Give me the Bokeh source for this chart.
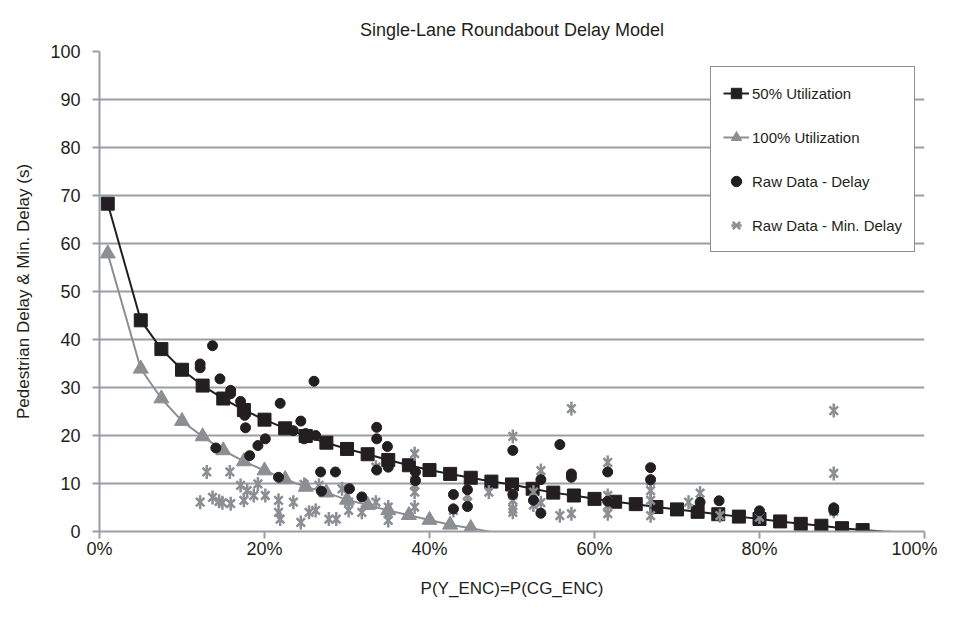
import math
from bokeh.plotting import figure
from bokeh.models import Legend, LegendItem, NumeralTickFormatter, FixedTicker, Range1d
from bokeh.embed import file_html
from bokeh.resources import INLINE

# ---------------- data ----------------
title_text = "Single-Lane Roundabout Delay Model"
x_label = "P(Y_ENC)=P(CG_ENC)"
y_label = "Pedestrian Delay & Min. Delay (s)"

x_ticks = [0.0, 0.2, 0.4, 0.6, 0.8, 1.0]
y_ticks = [0, 10, 20, 30, 40, 50, 60, 70, 80, 90, 100]

# 50% utilization model (markers)
u50_x = [0.01, 0.05, 0.075, 0.10, 0.125, 0.15, 0.175, 0.20, 0.225, 0.25, 0.275, 0.30,
         0.325, 0.35, 0.375, 0.40, 0.425, 0.45, 0.475, 0.50, 0.525, 0.55, 0.575, 0.60,
         0.625, 0.65, 0.675, 0.70, 0.725, 0.75, 0.775, 0.80, 0.825, 0.85, 0.875, 0.90, 0.925]
u50_y = [68.3, 44.0, 38.0, 33.7, 30.4, 27.7, 25.3, 23.3, 21.5, 19.9, 18.5, 17.2,
         16.1, 14.9, 13.8, 12.8, 12.0, 11.2, 10.4, 9.8, 8.9, 8.1, 7.5, 6.8,
         6.2, 5.7, 5.1, 4.6, 4.1, 3.6, 3.1, 2.6, 2.1, 1.6, 1.2, 0.7, 0.3]
# continuation of the model curve past the last marker
u50_tail_x = [0.95, 0.975]
u50_tail_y = [0.0, -0.2]

# 100% utilization model
u100_x = [0.01, 0.05, 0.075, 0.10, 0.125, 0.15, 0.175, 0.20, 0.225, 0.25, 0.275, 0.30,
          0.325, 0.35, 0.375, 0.40, 0.425, 0.45]
u100_y = [57.9, 33.9, 27.7, 23.0, 19.8, 16.9, 14.6, 12.7, 10.9, 9.3, 8.1, 6.6,
          5.5, 4.4, 3.4, 2.4, 1.4, 0.7]
u100_tail_x = [0.475]
u100_tail_y = [-0.1]

# raw data - delay (circles)
delay_x = [0.122, 0.122, 0.137, 0.146, 0.159, 0.159, 0.171, 0.175, 0.176, 0.177,
           0.141, 0.182, 0.192, 0.201, 0.219, 0.217, 0.235, 0.244, 0.248, 0.250,
           0.262, 0.260, 0.268, 0.286, 0.269, 0.303, 0.318, 0.336, 0.336, 0.349,
           0.350, 0.350, 0.336, 0.383, 0.383, 0.429, 0.446, 0.446, 0.429, 0.501,
           0.501, 0.535, 0.535, 0.526, 0.558, 0.572, 0.572, 0.616, 0.616, 0.668,
           0.668, 0.728, 0.751, 0.800, 0.890, 0.890]
delay_y = [34.9, 34.1, 38.7, 31.8, 29.4, 28.7, 27.1, 25.6, 24.2, 21.6,
           17.4, 15.8, 17.9, 19.3, 26.7, 11.3, 21.0, 23.0, 19.3, 20.4,
           20.0, 31.3, 12.4, 12.4, 8.4, 8.9, 7.2, 21.7, 19.3, 17.7,
           15.0, 13.4, 12.8, 12.4, 10.6, 7.7, 8.7, 5.2, 4.7, 16.9,
           7.7, 10.8, 3.8, 6.5, 18.1, 12.0, 11.3, 12.4, 6.3, 13.3,
           10.8, 6.1, 6.4, 4.3, 4.9, 4.4]

# raw data - min. delay (stars)
mind_x = [0.130, 0.158, 0.171, 0.179, 0.192, 0.122, 0.137, 0.145, 0.149, 0.159,
          0.175, 0.187, 0.201, 0.217, 0.217, 0.219, 0.235, 0.244, 0.254, 0.248,
          0.266, 0.262, 0.278, 0.287, 0.294, 0.302, 0.302, 0.318, 0.335, 0.335,
          0.350, 0.350, 0.350, 0.382, 0.382, 0.382, 0.382, 0.382, 0.429, 0.446,
          0.446, 0.472, 0.501, 0.501, 0.501, 0.501, 0.501, 0.535, 0.526, 0.526,
          0.535, 0.558, 0.572, 0.572, 0.616, 0.616, 0.616, 0.616, 0.668, 0.668,
          0.668, 0.668, 0.714, 0.728, 0.752, 0.800, 0.890, 0.890, 0.890, 0.890]
mind_y = [12.4, 12.4, 9.6, 8.5, 9.9, 6.1, 7.1, 6.3, 6.0, 5.8,
          6.5, 7.5, 7.5, 6.5, 4.0, 2.6, 6.1, 1.9, 4.0, 9.8,
          9.6, 4.4, 2.6, 2.6, 8.9, 6.1, 4.4, 4.0, 6.1, 13.4,
          5.1, 3.7, 2.3, 16.2, 10.6, 9.7, 8.2, 5.1, 4.4, 7.6,
          6.0, 8.2, 19.8, 7.6, 6.5, 4.7, 4.0, 12.7, 8.2, 5.5,
          6.0, 3.3, 25.6, 3.7, 14.4, 7.5, 5.4, 3.7, 10.5, 8.5,
          6.5, 3.3, 6.1, 8.0, 3.3, 3.0, 25.2, 12.1, 4.7, 4.2]

legend_labels = ["50% Utilization", "100% Utilization", "Raw Data - Delay", "Raw Data - Min. Delay"]

# ---------------- style ----------------
BLACK = "#231f20"
GRAY = "#8b8e92"
GRID = "#9a9ea3"
FONT = "Liberation Sans"

p = figure(width=937, height=609, output_backend="svg", toolbar_location=None,
           x_range=Range1d(0, 1), y_range=Range1d(0, 100),
           min_border_left=99, min_border_right=13, min_border_top=51, min_border_bottom=78)

p.title.text = title_text
p.title.align = "center"
p.title.text_font = FONT
p.title.text_font_size = "18px"
p.title.text_font_style = "normal"
p.title.text_color = BLACK
p.title.standoff = 24

p.outline_line_color = None
p.background_fill_color = "white"
p.border_fill_color = "white"

p.xgrid.visible = False
p.ygrid.grid_line_color = GRID
p.ygrid.grid_line_width = 2
p.ygrid.ticker = FixedTicker(ticks=y_ticks)

for ax in (p.xaxis[0], p.yaxis[0]):
    ax.axis_line_color = GRID
    ax.axis_line_width = 2
    ax.major_tick_line_color = GRID
    ax.major_tick_line_width = 2
    ax.major_tick_out = 7
    ax.major_tick_in = 0
    ax.minor_tick_line_color = None
    ax.major_label_text_font = FONT
    ax.major_label_text_font_size = "18px"
    ax.major_label_text_color = BLACK
    ax.axis_label_text_font = FONT
    ax.axis_label_text_font_size = "17px"
    ax.axis_label_text_font_style = "normal"
    ax.axis_label_text_color = BLACK

p.xaxis.ticker = FixedTicker(ticks=x_ticks)
p.xaxis.formatter = NumeralTickFormatter(format="0%")
p.yaxis.ticker = FixedTicker(ticks=y_ticks)
p.xaxis.axis_label = x_label
p.yaxis.axis_label = y_label
p.xaxis.major_label_standoff = 0
p.xaxis.axis_label_standoff = 17
p.yaxis.major_label_standoff = 12
p.yaxis.axis_label_standoff = 14

# ---------------- glyphs ----------------
l50 = p.line(u50_x + u50_tail_x, u50_y + u50_tail_y, line_color=BLACK, line_width=2)
m50 = p.scatter(u50_x, u50_y, marker="square", size=13, fill_color=BLACK, line_color=BLACK)

l100 = p.line(u100_x + u100_tail_x, u100_y + u100_tail_y, line_color=GRAY, line_width=2)
m100 = p.scatter(u100_x, u100_y, marker="triangle", size=15, fill_color=GRAY, line_color=GRAY)

md_x = p.scatter(mind_x, mind_y, marker="x", size=12, line_color=GRAY, line_width=2.5)
md_v = p.scatter(mind_x, mind_y, marker="dash", size=14, angle=math.pi / 2, line_color=GRAY, line_width=2.5)

dl = p.scatter(delay_x, delay_y, marker="circle", size=10, fill_color=BLACK, line_color=BLACK)

legend = Legend(items=[
    LegendItem(label=legend_labels[0], renderers=[l50, m50]),
    LegendItem(label=legend_labels[1], renderers=[l100, m100]),
    LegendItem(label=legend_labels[2], renderers=[dl]),
    LegendItem(label=legend_labels[3], renderers=[md_x, md_v]),
], location=(611, 279))
legend.label_text_font = FONT
legend.label_text_font_size = "15px"
legend.label_text_color = BLACK
legend.border_line_color = BLACK
legend.border_line_width = 1.5
legend.background_fill_color = "white"
legend.background_fill_alpha = 1
legend.padding = 12
legend.spacing = 16
legend.label_height = 28
legend.glyph_height = 28
legend.glyph_width = 26
legend.label_standoff = 3
legend.margin = 0
p.add_layout(legend)

open("out.html", "w").write(file_html(p, INLINE))
